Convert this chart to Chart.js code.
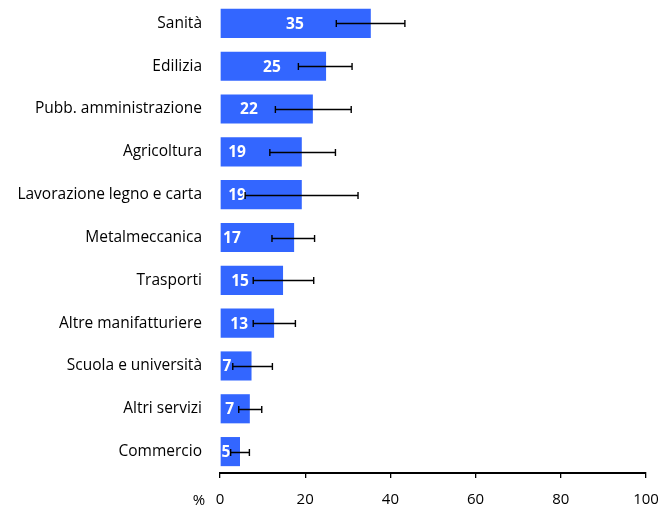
<!DOCTYPE html>
<html>
<head>
<meta charset="utf-8">
<script src="https://cdn.jsdelivr.net/npm/chart.js@4/dist/chart.umd.min.js"></script>
<style>
  html, body { margin: 0; padding: 0; background: #fff; }
  #wrap { width: 669px; height: 511px; }
</style>
</head>
<body>
<div id="wrap"><canvas id="myChart"></canvas></div>
<script>
const sectors = ["Sanità", "Edilizia", "Pubb. amministrazione", "Agricoltura", "Lavorazione legno e carta",
  "Metalmeccanica", "Trasporti", "Altre manifatturiere", "Scuola e università", "Altri servizi", "Commercio"];
const values = [35.4, 24.9, 21.8, 19.2, 19.2, 17.4, 14.8, 12.7, 7.4, 7.0, 4.7];
const errLow = [27.3, 18.4, 13.0, 11.7, 5.9, 12.2, 7.8, 7.8, 3.0, 4.4, 2.5];
const errHigh = [43.4, 31.0, 30.8, 27.1, 32.4, 22.2, 22.0, 17.7, 12.3, 9.8, 6.9];
const xTicks = [0, 20, 40, 60, 80, 100];

const FONT = 'Open Sans';

// where the white value labels sit (in axis units), as in the original
const labelAt = [17.6, 12.2, 6.8, 4.0, 4.0, 2.8, 4.7, 4.5, 1.6, 2.3, 1.4];

const extras = {
  id: 'extras',
  afterDatasetsDraw(chart) {
    const ctx = chart.ctx;
    const x = chart.scales.x, y = chart.scales.y;
    ctx.save();
    // value labels
    ctx.fillStyle = '#ffffff';
    ctx.font = 'bold 15.5px ' + FONT;
    ctx.textAlign = 'center';
    ctx.textBaseline = 'middle';
    values.forEach((v, i) => {
      ctx.fillText(String(Math.round(v)), x.getPixelForValue(labelAt[i]), y.getPixelForValue(i) + 1);
    });
    // error bars
    ctx.strokeStyle = '#000000';
    ctx.lineWidth = 1.4;
    errLow.forEach((lo, i) => {
      const yc = Math.round(y.getPixelForValue(i)) + 0.5;
      const x1 = x.getPixelForValue(lo), x2 = x.getPixelForValue(errHigh[i]);
      ctx.beginPath();
      ctx.moveTo(x1, yc); ctx.lineTo(x2, yc);
      ctx.moveTo(x1, yc - 3.5); ctx.lineTo(x1, yc + 3.5);
      ctx.moveTo(x2, yc - 3.5); ctx.lineTo(x2, yc + 3.5);
      ctx.stroke();
    });
    // "%" unit at the left of the x tick labels
    ctx.fillStyle = '#000000';
    ctx.font = '15px ' + FONT;
    ctx.textAlign = 'center';
    ctx.fillText('%', x.getPixelForValue(0) - 21, 501);
    ctx.restore();
  }
};

const config = {
  type: 'bar',
  data: {
    labels: sectors,
    datasets: [{
      data: values,
      backgroundColor: '#3366ff',
      borderWidth: 0,
      barPercentage: 0.68,
      categoryPercentage: 1
    }]
  },
  options: {
    indexAxis: 'y',
    responsive: true,
    maintainAspectRatio: false,
    animation: false,
    layout: { padding: { top: 2, right: 23, bottom: 0, left: 0 } },
    plugins: {
      legend: { display: false },
      tooltip: { enabled: false }
    },
    scales: {
      x: {
        min: 0,
        max: 100,
        afterBuildTicks: (s) => { s.ticks = xTicks.map(v => ({ value: v })); },
        afterFit: (s) => { s.height = 38; s.paddingLeft = 0; s.paddingRight = 0; },
        border: { display: true, color: '#000000', width: 2 },
        grid: { display: true, drawOnChartArea: false, drawTicks: true, tickLength: 5, color: '#000000', lineWidth: 1.3 },
        ticks: { color: '#000000', font: { family: FONT, size: 15 }, padding: 13, maxRotation: 0 }
      },
      y: {
        afterFit: (s) => { s.width = 220; s.paddingTop = 0; s.paddingBottom = 0; },
        border: { display: false },
        grid: { display: false, drawTicks: false },
        ticks: { color: '#000000', font: { family: FONT, size: 15.5 }, padding: 18 }
      }
    }
  },
  plugins: [extras]
};

const myChart = new Chart(document.getElementById('myChart'), config);
</script>
</body>
</html>
